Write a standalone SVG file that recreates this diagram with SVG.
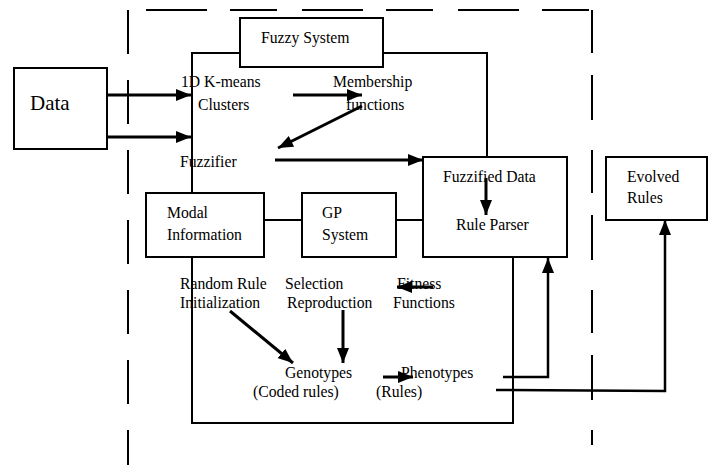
<svg xmlns="http://www.w3.org/2000/svg" width="713" height="465" viewBox="0 0 713 465">
<style>
text{font-family:"Liberation Serif","Times New Roman",serif;font-size:15.7px;fill:#000}
.box{fill:#fff;stroke:#000;stroke-width:2}
.ln{fill:none;stroke:#000;stroke-width:2}
.ar{fill:none;stroke:#000;stroke-width:3;marker-end:url(#ah)}
.dash{fill:none;stroke:#000;stroke-width:2;stroke-dasharray:44 26}
</style>
<defs>
<marker id="ah" markerUnits="userSpaceOnUse" markerWidth="15" markerHeight="12" refX="15" refY="6" orient="auto">
<path d="M0,0 L15,6 L0,12 z" fill="#000"/>
</marker>
</defs>
<g id="boundary">
<line class="dash" x1="128" y1="10" x2="128" y2="465"/>
<line class="dash" x1="146" y1="10" x2="592" y2="10" style="stroke-dasharray:61 23 47 25"/>
<line class="dash" x1="592" y1="10" x2="592" y2="445" style="stroke-dasharray:43 22 45 30"/>
</g>
<g id="frames">
<polyline class="ln" points="192,193 192,53 240,53"/>
<polyline class="ln" points="383,53 487,53 487,157"/>
<polyline class="ln" points="192,257 192,423 513,423 513,257"/>
</g>
<g id="data">
<rect class="box" x="14" y="68" width="93" height="81"/>
<text x="30" y="110" style="font-size:21px">Data</text>
</g>
<g id="fuzzy-system">
<rect class="box" x="240" y="18" width="143" height="49"/>
<text x="261" y="43">Fuzzy System</text>
</g>
<g id="kmeans"><text x="181" y="87">1D K-means</text><text x="198" y="110">Clusters</text></g>
<g id="membership"><text x="333" y="87">Membership</text><text x="346" y="110">functions</text></g>
<g id="fuzzifier"><text x="180" y="167">Fuzzifier</text></g>
<g id="fuzzified">
<rect class="box" x="423" y="157" width="144" height="100"/>
<text x="443" y="182">Fuzzified Data</text>
<text x="456" y="230">Rule Parser</text>
</g>
<g id="modal">
<rect class="box" x="146" y="193" width="118" height="64"/>
<text x="167" y="218">Modal</text>
<text x="167" y="240">Information</text>
</g>
<g id="gp">
<rect class="box" x="302" y="193" width="94" height="64"/>
<text x="322" y="218">GP</text>
<text x="322" y="240">System</text>
</g>
<g id="evolved">
<rect class="box" x="606" y="157" width="101" height="63"/>
<text x="627" y="182">Evolved</text>
<text x="627" y="203">Rules</text>
</g>
<g id="random"><text x="180" y="289">Random Rule</text><text x="180" y="308">Initialization</text></g>
<g id="selection"><text x="285" y="289">Selection</text><text x="287" y="308">Reproduction</text></g>
<g id="fitness"><text x="397" y="289">Fitness</text><text x="393" y="308">Functions</text></g>
<g id="genotypes"><text x="285" y="378">Genotypes</text><text x="253" y="397">(Coded rules)</text></g>
<g id="phenotypes"><text x="401" y="378">Phenotypes</text><text x="376" y="397">(Rules)</text></g>
<g id="connectors">
<line class="ln" x1="264" y1="220" x2="302" y2="220"/>
<line class="ln" x1="396" y1="220" x2="423" y2="220"/>
<line class="ar" x1="107" y1="95" x2="191" y2="95"/>
<line class="ar" x1="106" y1="137" x2="191" y2="137"/>
<line class="ar" x1="293" y1="95" x2="362" y2="95"/>
<line class="ar" x1="362" y1="106" x2="278" y2="148"/>
<line class="ar" x1="275" y1="160" x2="423" y2="160"/>
<line class="ar" x1="486" y1="178" x2="486" y2="215"/>
<line class="ar" x1="433" y1="287" x2="397" y2="287"/>
<line class="ar" x1="230" y1="311" x2="293" y2="363"/>
<line class="ar" x1="343" y1="310" x2="343" y2="363"/>
<line class="ar" x1="383" y1="377" x2="413" y2="377"/>
<polyline class="ar" style="stroke-width:2.5" points="503,377 548,377 548,258"/>
<polyline class="ar" style="stroke-width:2.5" points="496,390 665,391 665,220"/>
</g>
</svg>
